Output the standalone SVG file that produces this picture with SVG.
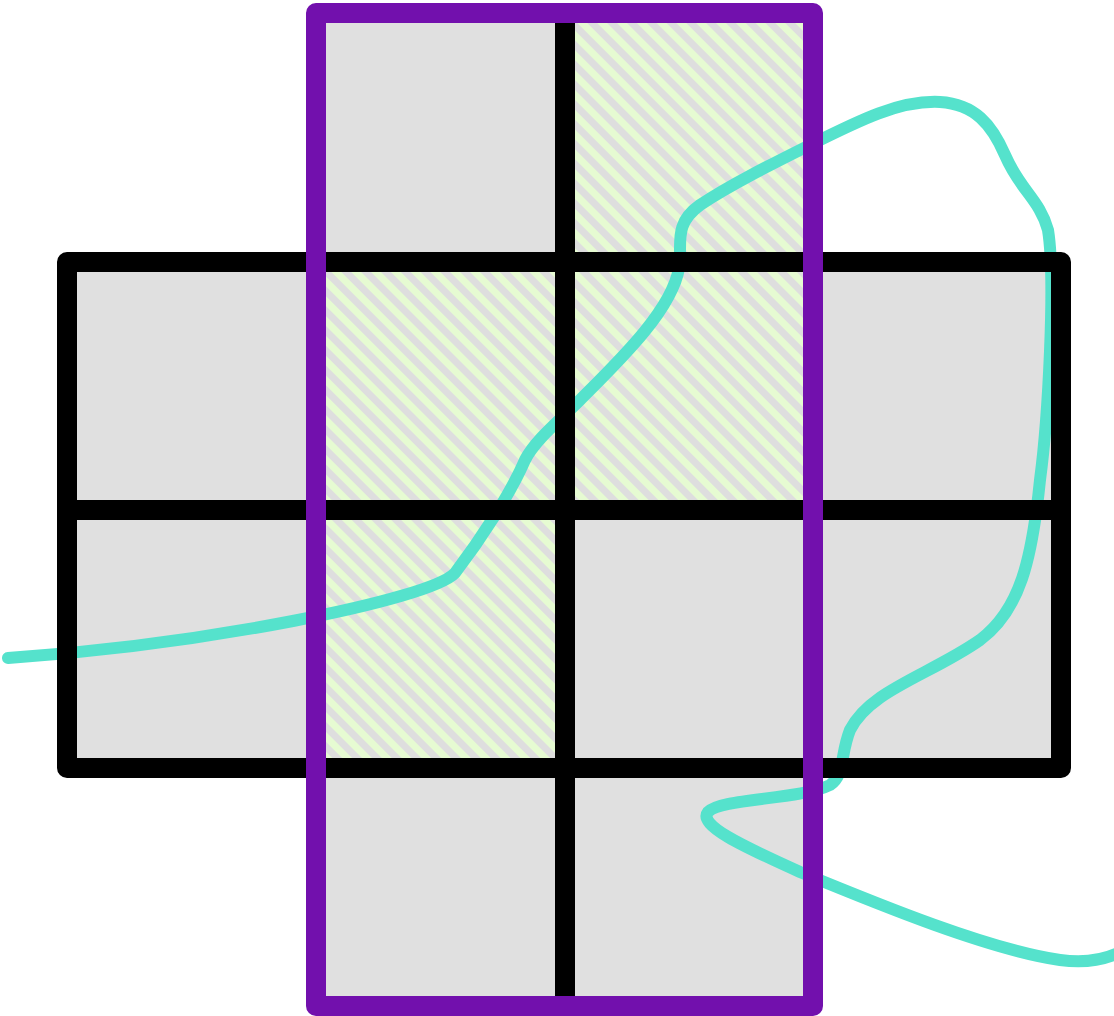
<svg xmlns="http://www.w3.org/2000/svg" width="1114" height="1016" viewBox="0 0 1114 1016">
  <style>
    .gray { fill: #e0e0e0; }
    .hatch { fill: url(#hatch); }
    .black { fill: none; stroke: #000000; stroke-width: 20; stroke-linejoin: round; stroke-linecap: round; }
    .purple { fill: none; stroke: #7210ad; stroke-width: 20; stroke-linejoin: round; stroke-linecap: round; }
    .curve { fill: none; stroke: #55e2cc; stroke-width: 12; stroke-linecap: round; stroke-linejoin: round; }
  </style>
  <defs>
    <pattern id="hatch" patternUnits="userSpaceOnUse" width="14" height="14" patternTransform="rotate(-45)">
      <rect x="0" y="0" width="14" height="14" fill="#dedede"/>
      <rect x="0" y="0" width="7" height="14" fill="#e6fbd2"/>
    </pattern>
  </defs>
  <rect width="1114" height="1016" fill="#ffffff"/>
  <g id="fills">
    <rect class="gray" x="67" y="262" width="994" height="506"/>
    <rect class="gray" x="316" y="13" width="497" height="993"/>
    <rect class="hatch" x="565" y="13" width="248" height="249"/>
    <rect class="hatch" x="316" y="262" width="497" height="248"/>
    <rect class="hatch" x="316" y="510" width="249" height="258"/>
  </g>
  <g id="connectors">
    <path id="curve" class="curve" d="M 8 658 C 200 645, 430 600, 455 573 C 480 540, 510 495, 525 460 C 535 440, 560 420, 580 400 C 620 360, 672 310, 679 268 C 683 245, 672 225, 700 205 C 730 185, 770 165, 810 145 C 860 120, 900 100, 940 102 C 975 104, 992 125, 1005 155 C 1020 190, 1040 200, 1048 230 C 1056 280, 1048 420, 1040 480 C 1032 560, 1020 610, 980 640 C 930 675, 870 690, 850 730 C 840 755, 845 775, 830 785 C 800 800, 720 798, 708 812 C 698 825, 740 845, 800 872 C 880 905, 990 950, 1060 960 C 1090 964, 1110 958, 1124 950"/>
  </g>
  <g id="black-grid">
    <rect class="black" x="67" y="262" width="994" height="506"/>
    <line class="black" x1="67" y1="510" x2="1061" y2="510"/>
    <line class="black" x1="565" y1="13" x2="565" y2="1006"/>
  </g>
  <g id="purple-rect">
    <rect class="purple" x="316" y="13" width="497" height="993"/>
  </g>
</svg>
